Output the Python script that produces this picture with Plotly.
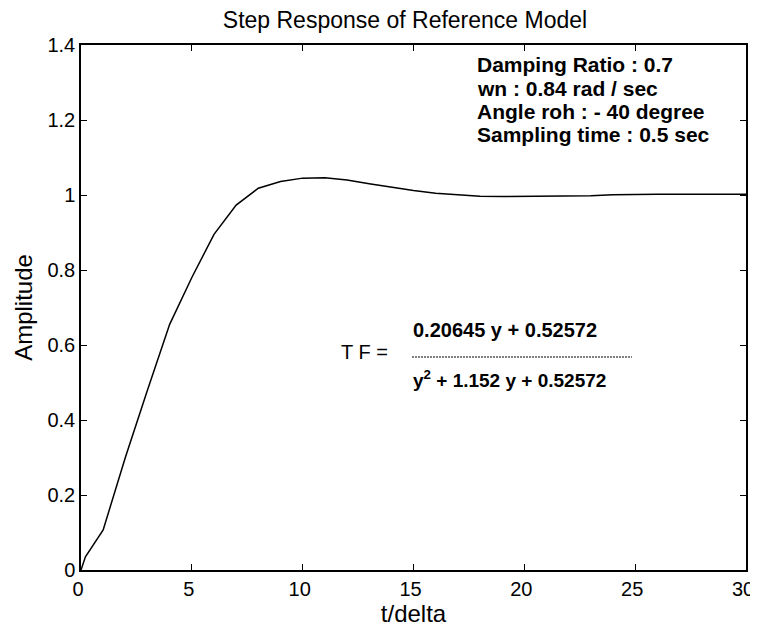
import plotly.graph_objects as go

# Data (t/delta vs amplitude)
t_vals = [0, 0.2, 1, 2, 3, 4, 5, 6, 7, 8, 9, 10, 11, 12, 13, 14, 15, 16, 17, 18,
          19, 20, 21, 22, 23, 24, 25, 26, 27, 28, 29, 30]
amp_vals = [0, 0.035, 0.107, 0.30, 0.48, 0.655, 0.78, 0.895, 0.973, 1.018, 1.036, 1.045,
            1.046, 1.040, 1.030, 1.020, 1.012, 1.005, 1.000, 0.997, 0.996, 0.996,
            0.996, 0.996, 0.998, 1.001, 1.002, 1.002, 1.002, 1.002, 1.002, 1.002]

x_ticks = [0, 5, 10, 15, 20, 25, 30]
x_tick_labels = ["0", "5", "10", "15", "20", "25", "30"]
y_ticks = [0, 0.2, 0.4, 0.6, 0.8, 1.0, 1.2, 1.4]
y_tick_labels = ["0", "0.2", "0.4", "0.6", "0.8", "1", "1.2", "1.4"]

info_lines = ["Damping Ratio : 0.7", "wn : 0.84 rad / sec",
              "Angle roh : - 40 degree", "Sampling time : 0.5 sec"]
tf_num = "0.20645 y + 0.52572"
tf_den = "y<sup>2</sup> + 1.152 y + 0.52572"

FONT = "Liberation Sans, Arial, sans-serif"
# page offset (default body margin of the html page)
OFF = 8
W, H = 758 - OFF, 633 - OFF
# plot area in page pixels
L, R, T, B = 81, 746, 45, 570

fig = go.Figure()
fig.add_trace(go.Scatter(x=t_vals, y=amp_vals, mode="lines",
                         line=dict(color="black", width=1.5), showlegend=False))

axis_common = dict(showline=True, linecolor="black", linewidth=1.5, mirror="ticks",
                   ticks="inside", ticklen=6, tickcolor="black", tickwidth=1.2,
                   showgrid=False, zeroline=False, automargin=False,
                   tickfont=dict(family=FONT, size=20, color="black"))

fig.update_layout(
    width=W, height=H,
    margin=dict(l=L - OFF, r=W - (R - OFF), t=T - OFF, b=H - (B - OFF)),
    paper_bgcolor="white", plot_bgcolor="white",
    title=dict(text="Step Response of Reference Model", x=(405 - OFF) / W,
               xanchor="center", xref="container",
               y=1 - (20 - OFF) / H, yanchor="middle", yref="container", automargin=False,
               font=dict(family=FONT, size=23, color="black")),
    xaxis=dict(range=[0, 30], tickvals=x_ticks, ticktext=x_tick_labels,
               ticklabelshift=-3,
               title=dict(text="t/delta", font=dict(family=FONT, size=24, color="black"),
                          standoff=0),
               **axis_common),
    yaxis=dict(range=[0, 1.4], tickvals=y_ticks, ticktext=y_tick_labels,
               title=dict(text="Amplitude", font=dict(family=FONT, size=24, color="black"),
                          standoff=8),
               **axis_common),
)

anns = []
for i, line in enumerate(info_lines):
    anns.append(dict(x=475, y=65 + 23.3 * i, text=f"<b>{line}</b>",
                     xanchor="left", font=dict(family=FONT, size=21, color="black")))
anns.append(dict(x=339, y=352, text="T F =", xanchor="left",
                 font=dict(family=FONT, size=20, color="black")))
anns.append(dict(x=411, y=330, text=f"<b>{tf_num}</b>", xanchor="left",
                 font=dict(family=FONT, size=20, color="black")))
anns.append(dict(x=411, y=379, text=f"<b>{tf_den}</b>", xanchor="left",
                 font=dict(family=FONT, size=19, color="black")))

# convert page-pixel positions to paper coords
for a in anns:
    a.update(xref="paper", yref="paper", showarrow=False, yanchor="middle")
    a["x"] = (a["x"] - L) / (R - L)
    a["y"] = (B - a["y"]) / (B - T)
fig.update_layout(annotations=anns)

fig.add_shape(type="line", xref="paper", yref="paper",
              x0=(412 - L) / (R - L), x1=(632 - L) / (R - L),
              y0=(B - 357) / (B - T), y1=(B - 357) / (B - T),
              line=dict(color="black", width=1, dash="2px,1px"))

fig.write_html("out.html")
